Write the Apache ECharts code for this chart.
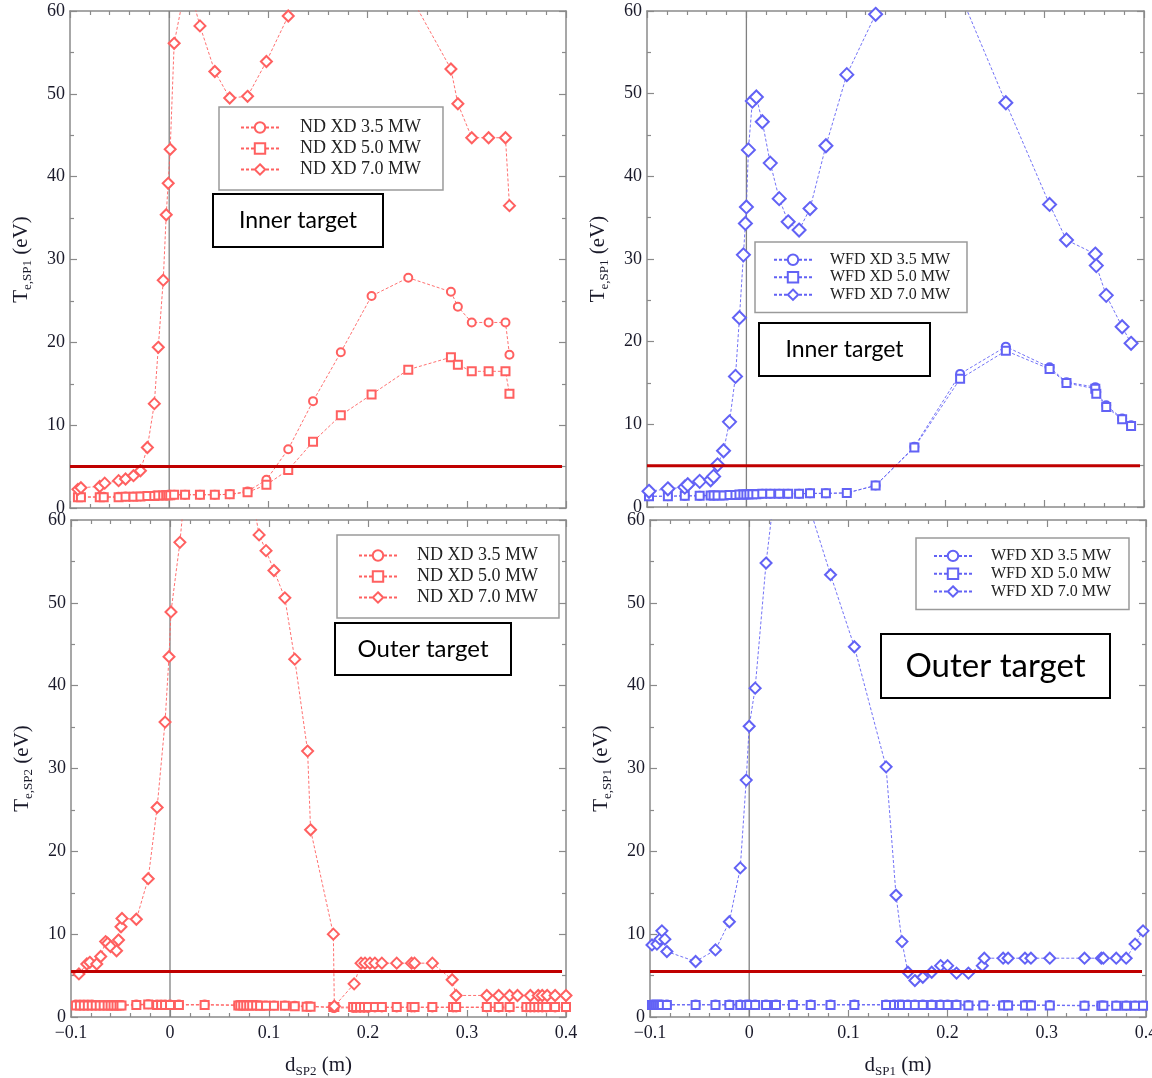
<!DOCTYPE html>
<html><head><meta charset="utf-8">
<script src="https://cdn.jsdelivr.net/npm/echarts@6/dist/echarts.min.js"></script>
<style>html,body{margin:0;padding:0;background:#fff}#c{width:1152px;height:1078px}</style>
</head><body><div id="c"></div>
<script>
// ---------- DATA ----------
const xTicks = [-0.1, 0, 0.1, 0.2, 0.3, 0.4];
const yTicks = [0, 10, 20, 30, 40, 50, 60];

// Top-left: ND XD, inner target
const ndIn_d7 = [-0.092,-0.089,-0.070,-0.065,-0.051,-0.044,-0.036,-0.029,-0.022,-0.015,-0.011,-0.006,-0.003,-0.001,0.001,0.005,0.018,0.031,0.046,0.061,0.079,0.098,0.120,0.140,0.170,0.200,0.240,0.284,0.291,0.305,0.322,0.339,0.343];
const ndIn_T7 = [2.25,2.45,2.6,3.0,3.3,3.5,3.9,4.5,7.3,12.6,19.4,27.5,35.4,39.2,43.3,56.1,64,58.2,52.7,49.5,49.7,53.9,59.4,64,70,70,62.5,53.0,48.8,44.7,44.7,44.7,36.5];
const ndIn_dLow = [-0.092,-0.089,-0.070,-0.066,-0.051,-0.044,-0.036,-0.029,-0.022,-0.015,-0.011,-0.006,-0.003,-0.001,0.001,0.005,0.016,0.031,0.046,0.061,0.079,0.098,0.120,0.145,0.173,0.204,0.241,0.284,0.291,0.305,0.322,0.339,0.343];
const ndIn_T35 = [1.35,1.35,1.35,1.35,1.35,1.4,1.4,1.4,1.45,1.5,1.5,1.55,1.55,1.6,1.6,1.6,1.6,1.6,1.6,1.65,2.0,3.4,7.1,12.9,18.8,25.6,27.8,26.1,24.3,22.4,22.4,22.4,18.5];
const ndIn_T50 = [1.3,1.3,1.3,1.3,1.3,1.35,1.35,1.4,1.45,1.45,1.5,1.5,1.55,1.55,1.55,1.6,1.6,1.6,1.6,1.65,1.9,2.8,4.6,8.0,11.2,13.7,16.7,18.2,17.3,16.5,16.5,16.5,13.8];

// Top-right: WFD XD, inner target
const wfdIn_d7 = [-0.098,-0.079,-0.062,-0.059,-0.047,-0.036,-0.033,-0.029,-0.023,-0.017,-0.011,-0.007,-0.003,-0.001,0.000,0.002,0.006,0.010,0.016,0.024,0.033,0.042,0.053,0.064,0.080,0.101,0.130,0.150,0.180,0.210,0.261,0.305,0.322,0.351,0.352,0.362,0.378,0.387];
const wfdIn_T7 = [1.9,2.2,2.4,2.7,3.1,3.3,3.7,5.1,6.8,10.3,15.8,22.9,30.5,34.3,36.3,43.2,49.1,49.6,46.6,41.6,37.3,34.5,33.5,36.1,43.7,52.3,59.6,66,70,63.5,48.9,36.6,32.3,30.6,29.2,25.6,21.8,19.8];
const wfdIn_dLow = [-0.098,-0.079,-0.062,-0.047,-0.036,-0.033,-0.029,-0.023,-0.017,-0.011,-0.007,-0.003,0.000,0.003,0.006,0.010,0.016,0.024,0.033,0.042,0.053,0.064,0.080,0.101,0.130,0.169,0.215,0.261,0.305,0.322,0.351,0.352,0.362,0.378,0.387];
const wfdIn_T35 = [1.3,1.3,1.35,1.35,1.4,1.4,1.4,1.4,1.45,1.45,1.5,1.5,1.5,1.55,1.55,1.55,1.6,1.6,1.6,1.6,1.6,1.65,1.65,1.7,2.6,7.3,16.1,19.4,16.9,15.1,14.5,13.9,12.3,10.7,9.9];
const wfdIn_T50 = [1.3,1.3,1.35,1.35,1.4,1.4,1.4,1.4,1.45,1.45,1.5,1.5,1.5,1.55,1.55,1.55,1.6,1.6,1.6,1.6,1.6,1.65,1.65,1.7,2.6,7.2,15.5,18.9,16.7,15.0,14.3,13.7,12.1,10.6,9.8];

// Bottom-left: ND XD, outer target
const ndOut_d7 = [-0.092,-0.084,-0.081,-0.074,-0.070,-0.065,-0.063,-0.060,-0.054,-0.052,-0.0495,-0.0485,-0.034,-0.022,-0.013,-0.005,-0.001,0.001,0.010,0.020,0.040,0.060,0.080,0.090,0.097,0.105,0.116,0.126,0.139,0.142,0.165,0.166,0.186,0.193,0.197,0.202,0.207,0.214,0.229,0.244,0.247,0.265,0.285,0.289,0.320,0.332,0.343,0.351,0.364,0.372,0.376,0.381,0.389,0.400];
const ndOut_T7 = [5.2,6.4,6.6,6.4,7.3,9.1,8.9,8.5,8.0,9.3,10.9,11.9,11.8,16.7,25.3,35.6,43.5,48.9,57.3,70,80,78,65,58.2,56.3,53.9,50.6,43.2,32.1,22.6,10.0,1.3,4.0,6.5,6.5,6.5,6.5,6.5,6.5,6.5,6.5,6.5,4.5,2.6,2.6,2.6,2.6,2.6,2.6,2.6,2.6,2.6,2.6,2.6];
const ndOut_dLow = [-0.095,-0.091,-0.087,-0.083,-0.079,-0.075,-0.071,-0.067,-0.063,-0.060,-0.057,-0.054,-0.051,-0.049,-0.034,-0.022,-0.013,-0.009,-0.005,0.000,0.009,0.035,0.069,0.071,0.074,0.077,0.080,0.083,0.087,0.091,0.097,0.105,0.116,0.126,0.138,0.142,0.165,0.166,0.185,0.188,0.192,0.196,0.200,0.207,0.214,0.229,0.244,0.247,0.265,0.286,0.289,0.320,0.332,0.343,0.360,0.364,0.368,0.372,0.376,0.380,0.389,0.400];
const ndOut_T35 = [1.5,1.5,1.5,1.5,1.5,1.45,1.45,1.45,1.45,1.45,1.45,1.45,1.45,1.45,1.5,1.55,1.5,1.5,1.5,1.5,1.5,1.5,1.45,1.45,1.45,1.45,1.45,1.45,1.45,1.4,1.4,1.4,1.4,1.35,1.3,1.3,1.1,1.1,1.1,1.1,1.1,1.1,1.1,1.15,1.15,1.15,1.15,1.15,1.15,1.15,1.15,1.15,1.15,1.15,1.15,1.15,1.15,1.15,1.15,1.15,1.15,1.15];
const ndOut_T50 = [1.4,1.4,1.4,1.4,1.4,1.4,1.4,1.4,1.4,1.4,1.4,1.4,1.4,1.4,1.45,1.5,1.45,1.45,1.45,1.45,1.45,1.45,1.4,1.4,1.4,1.4,1.4,1.4,1.4,1.35,1.35,1.35,1.35,1.3,1.25,1.25,1.2,1.2,1.2,1.2,1.2,1.2,1.2,1.2,1.2,1.2,1.2,1.2,1.2,1.2,1.2,1.2,1.2,1.2,1.2,1.2,1.2,1.2,1.2,1.2,1.2,1.2];

// Bottom-right: WFD XD, outer target
const wfdOut_d7 = [-0.098,-0.093,-0.090,-0.088,-0.085,-0.083,-0.054,-0.034,-0.020,-0.009,-0.003,0.000,0.006,0.017,0.030,0.045,0.055,0.082,0.106,0.138,0.148,0.154,0.160,0.167,0.175,0.184,0.193,0.200,0.209,0.221,0.235,0.237,0.256,0.261,0.278,0.284,0.303,0.338,0.355,0.357,0.370,0.380,0.389,0.397];
const wfdOut_T7 = [8.7,8.8,9.4,10.4,9.4,7.9,6.7,8.1,11.5,18.0,28.6,35.1,39.7,54.8,68,70,63.7,53.4,44.7,30.2,14.7,9.1,5.4,4.4,4.8,5.4,6.2,6.2,5.3,5.3,6.2,7.1,7.1,7.1,7.1,7.1,7.1,7.1,7.1,7.1,7.1,7.1,8.8,10.4];
const wfdOut_dLow = [-0.098,-0.096,-0.094,-0.092,-0.090,-0.088,-0.083,-0.054,-0.034,-0.020,-0.009,-0.003,0.000,0.006,0.017,0.027,0.044,0.062,0.082,0.106,0.138,0.146,0.151,0.154,0.160,0.167,0.175,0.184,0.193,0.200,0.209,0.221,0.236,0.256,0.261,0.278,0.284,0.303,0.338,0.355,0.357,0.370,0.380,0.389,0.397];
const wfdOut_T35 = [1.5,1.5,1.5,1.5,1.5,1.5,1.5,1.5,1.5,1.5,1.5,1.5,1.5,1.5,1.5,1.5,1.5,1.5,1.5,1.5,1.5,1.5,1.5,1.5,1.5,1.5,1.5,1.5,1.5,1.5,1.5,1.45,1.45,1.45,1.45,1.45,1.45,1.45,1.4,1.4,1.4,1.4,1.4,1.4,1.4];
const wfdOut_T50 = [1.45,1.45,1.45,1.45,1.45,1.45,1.45,1.45,1.45,1.45,1.45,1.45,1.45,1.45,1.45,1.45,1.45,1.45,1.45,1.45,1.45,1.45,1.45,1.45,1.45,1.45,1.45,1.45,1.45,1.45,1.45,1.4,1.4,1.4,1.4,1.4,1.4,1.4,1.35,1.35,1.35,1.35,1.35,1.35,1.35];

// reference lines
const zeroLine = [[0, 0], [0, 60]];
const thresholdInner = 5;
const thresholdOuter = 5.5;
const thresholdSpan = [-0.1, 0.396];

const ndNames = ['ND XD 3.5 MW', 'ND XD 5.0 MW', 'ND XD 7.0 MW'];
const wfdNames = ['WFD XD 3.5 MW', 'WFD XD 5.0 MW', 'WFD XD 7.0 MW'];

// ---------- CHART ----------
const RED = '#ff6060', BLUE = '#6262f5', AXIS = '#8a8a8a', TXT = '#1a1a2a';
const SERIF = '"Liberation Serif", "DejaVu Serif", serif';

const grids = [
  {left: 70, top: 11, width: 496, height: 497},
  {left: 647, top: 11, width: 497, height: 496},
  {left: 71, top: 520, width: 495, height: 497},
  {left: 650, top: 520, width: 496, height: 497}
].map(g => Object.assign(g, {outerBoundsMode: 'none', containLabel: false}));

function fmtX(v) {
  const r = Math.round(v * 10) / 10;
  if (r === 0) return '0';
  return (r < 0 ? '\u2212' : '') + Math.abs(r);
}

const xAxes = [], yAxes = [];
const yNames = ['{t|T}{s|e,SP1}{t| (eV)}', '{t|T}{s|e,SP1}{t| (eV)}', '{t|T}{s|e,SP2}{t| (eV)}', '{t|T}{s|e,SP1}{t| (eV)}'];
const xNames = ['', '', '{t|d}{s|SP2}{t| (m)}', '{t|d}{s|SP1}{t| (m)}'];
const rich = {
  t: {fontFamily: SERIF, fontSize: 21, color: TXT, lineHeight: 26},
  s: {fontFamily: SERIF, fontSize: 13, color: TXT, lineHeight: 26, verticalAlign: 'bottom', padding: [9, 0, 0, 0]}
};
const tickCommon = {show: true, inside: true, length: 7, lineStyle: {color: AXIS, width: 1.2}};
const minorCommon = {show: true, length: 4, lineStyle: {color: AXIS, width: 1.2}};
for (let i = 0; i < 4; i++) {
  const bottomRow = i >= 2;
  xAxes.push({
    type: 'value', gridIndex: i, position: 'bottom', min: xTicks[0], max: xTicks[xTicks.length - 1], interval: 0.1,
    axisLine: {show: true, onZero: false, lineStyle: {color: AXIS, width: 1.5}},
    axisTick: tickCommon, minorTick: Object.assign({splitNumber: 5}, minorCommon),
    splitLine: {show: false},
    axisLabel: {show: bottomRow, formatter: fmtX, fontFamily: SERIF, fontSize: 18, color: TXT, margin: 7},
    name: xNames[i], nameLocation: 'middle', nameGap: 35, nameTextStyle: {rich: rich}
  });
  yAxes.push({
    type: 'value', gridIndex: i, position: 'left', min: yTicks[0], max: yTicks[yTicks.length - 1], interval: 10,
    axisLine: {show: true, onZero: false, lineStyle: {color: AXIS, width: 1.5}},
    axisTick: tickCommon, minorTick: Object.assign({splitNumber: 2}, minorCommon),
    splitLine: {show: false},
    axisLabel: {show: true, fontFamily: SERIF, fontSize: 18, color: TXT, margin: 5},
    name: yNames[i], nameLocation: 'middle', nameGap: 36, nameRotate: 90, nameTextStyle: {rich: rich}
  });
}
for (let i = 0; i < 4; i++) {
  xAxes.push({
    type: 'value', gridIndex: i, position: 'top', min: xTicks[0], max: xTicks[xTicks.length - 1], interval: 0.1,
    axisLine: {show: true, onZero: false, lineStyle: {color: AXIS, width: 1.5}},
    axisTick: tickCommon, minorTick: Object.assign({splitNumber: 5}, minorCommon),
    splitLine: {show: false}, axisLabel: {show: false}
  });
  yAxes.push({
    type: 'value', gridIndex: i, position: 'right', min: yTicks[0], max: yTicks[yTicks.length - 1], interval: 10,
    axisLine: {show: true, onZero: false, lineStyle: {color: AXIS, width: 1.5}},
    axisTick: tickCommon, minorTick: Object.assign({splitNumber: 2}, minorCommon),
    splitLine: {show: false}, axisLabel: {show: false}
  });
}

function zip(d, t) { return d.map((x, k) => [x, t[k]]); }
function dataSeries(name, gi, d, t, sym, color, size) {
  return {
    type: 'line', name: name, xAxisIndex: gi, yAxisIndex: gi, data: zip(d, t),
    symbol: sym, symbolSize: size, showAllSymbol: true, clip: true,
    lineStyle: {color: color, width: 0.9, type: [3, 2]},
    itemStyle: {color: color, borderColor: color, borderWidth: 1.1},
    emphasis: {disabled: true}, z: 3
  };
}
function refLine(gi, data, color, width, z) {
  return {type: 'line', name: '_ref' + gi + z, xAxisIndex: gi, yAxisIndex: gi, data: data, symbol: 'none',
    lineStyle: {color: color, width: width, type: 'solid'}, emphasis: {disabled: true}, z: z, silent: true, clip: true};
}

const panels = [
  {gi: 0, names: ndNames, color: RED, dLow: ndIn_dLow, T35: ndIn_T35, T50: ndIn_T50, d7: ndIn_d7, T7: ndIn_T7, thr: thresholdInner, dsz: 11},
  {gi: 1, names: wfdNames, color: BLUE, dLow: wfdIn_dLow, T35: wfdIn_T35, T50: wfdIn_T50, d7: wfdIn_d7, T7: wfdIn_T7, thr: thresholdInner, dsz: 13},
  {gi: 2, names: ndNames, color: RED, dLow: ndOut_dLow, T35: ndOut_T35, T50: ndOut_T50, d7: ndOut_d7, T7: ndOut_T7, thr: thresholdOuter, dsz: 11},
  {gi: 3, names: wfdNames, color: BLUE, dLow: wfdOut_dLow, T35: wfdOut_T35, T50: wfdOut_T50, d7: wfdOut_d7, T7: wfdOut_T7, thr: thresholdOuter, dsz: 11}
];
const series = [];
panels.forEach(p => {
  series.push(refLine(p.gi, zeroLine, '#808080', 1.3, 1));
  series.push(dataSeries(p.names[0], p.gi, p.dLow, p.T35, 'emptyCircle', p.color, 8));
  series.push(dataSeries(p.names[1], p.gi, p.dLow, p.T50, 'emptyRect', p.color, 8));
  series.push(dataSeries(p.names[2], p.gi, p.d7, p.T7, 'emptyDiamond', p.color, p.dsz));
  series.push(refLine(p.gi, [[thresholdSpan[0], p.thr], [thresholdSpan[1], p.thr]], '#c00000', 3, 5));
});

function legendBox(names, left, top, fs, lh, pad, textPad) {
  return {
    show: true, data: names, orient: 'vertical', left: left, top: top,
    itemWidth: 38, itemHeight: 13, itemGap: 0, padding: pad, selectedMode: false,
    backgroundColor: '#fff', borderColor: '#9a9a9a', borderWidth: 1.5, z: 10,
    textStyle: {fontFamily: SERIF, fontSize: fs, color: '#222', lineHeight: lh, padding: [0, 0, 0, textPad]}
  };
}
const legends = [
  legendBox(ndNames, 219, 107, 18, 21, [10, 22, 10, 21], 16),
  legendBox(wfdNames, 755, 242, 16, 17.5, [9, 17, 9, 18], 13),
  legendBox(ndNames, 337, 535, 18, 21, [10, 21, 10, 21], 15),
  legendBox(wfdNames, 916, 538, 16, 17.8, [9, 18, 9, 17], 14)
];

function labelBox(x, y, w, h, text, fs) {
  return {
    type: 'group', z: 20, children: [
      {type: 'rect', shape: {x: x, y: y, width: w, height: h}, style: {fill: '#fff', stroke: '#000', lineWidth: 2}, z: 20},
      {type: 'text', x: x + w / 2, y: y + h / 2, z: 21,
        style: {text: text, fontFamily: 'Lato, "Open Sans", sans-serif', fontSize: fs, fill: '#000', align: 'center', verticalAlign: 'middle'}}
    ]
  };
}

const chart = echarts.init(document.getElementById('c'), null, {renderer: 'canvas'});
chart.setOption({
  animation: false,
  backgroundColor: '#fff',
  grid: grids,
  xAxis: xAxes,
  yAxis: yAxes,
  legend: legends,
  series: series,
  graphic: [
    labelBox(213, 194, 170, 53, 'Inner target', 23),
    labelBox(759, 323, 171, 53, 'Inner target', 23),
    labelBox(335, 623, 176, 52, 'Outer target', 24),
    labelBox(881, 634, 229, 64, 'Outer target', 33)
  ]
});
</script>
</body></html>
